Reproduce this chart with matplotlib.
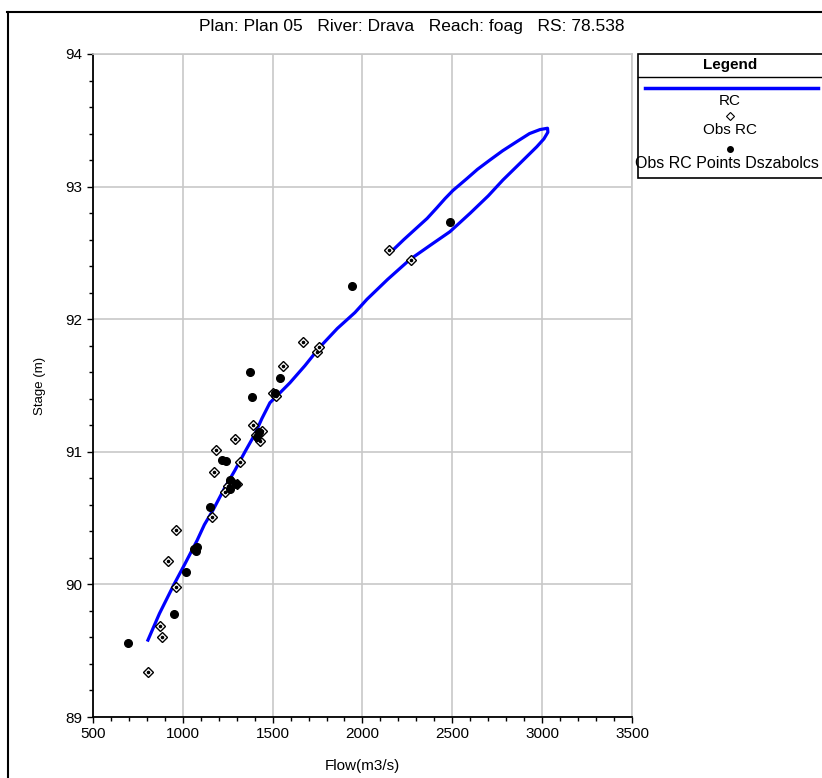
"""Rating curve at RS 78.538 (Drava, reach foag): computed RC vs observed points."""

import matplotlib.pyplot as plt
from matplotlib.lines import Line2D
from matplotlib.patches import Rectangle
from matplotlib.ticker import MultipleLocator

plt.rcParams["font.family"] = ["Liberation Sans", "DejaVu Sans"]

# computed rating curve (rising limb up to the loop tip, then falling limb back)
rc_flow = [806, 870, 951, 1010, 1079, 1120, 1168, 1230, 1290, 1346, 1400, 1440,
           1485, 1530, 1596, 1680, 1763, 1860, 1958, 2025, 2140, 2264, 2380, 2487,
           2600, 2700, 2782, 2880, 2970, 3010, 3032, 3030, 2988, 2930, 2860, 2780,
           2709, 2640, 2581, 2503, 2460, 2414, 2360, 2303, 2230, 2153]
rc_stage = [89.58, 89.78, 90.00, 90.15, 90.33, 90.45, 90.56, 90.72, 90.86, 91.00,
            91.13, 91.25, 91.37, 91.43, 91.52, 91.65, 91.79, 91.93, 92.05, 92.15,
            92.30, 92.45, 92.56, 92.66, 92.80, 92.93, 93.05, 93.18, 93.30, 93.36,
            93.41, 93.44, 93.43, 93.40, 93.34, 93.27, 93.20, 93.13, 93.06, 92.97,
            92.91, 92.84, 92.76, 92.69, 92.60, 92.50]

# observed rating curve points (open diamonds)
obs_flow = [806, 873, 884, 917, 962, 962, 1162, 1173, 1184, 1290, 1301, 1318,
            1390, 1410, 1430, 1502, 1520, 1557, 1669, 1747, 1760, 2147, 2270,
            1250, 1270, 1440, 1235]
obs_stage = [89.34, 89.69, 89.60, 90.18, 89.98, 90.41, 90.51, 90.85, 91.01, 91.10,
             90.76, 90.92, 91.20, 91.13, 91.08, 91.44, 91.42, 91.65, 91.83, 91.75,
             91.79, 92.52, 92.45, 90.74, 90.78, 91.16, 90.70]

# observed points, Dszabolcs series (filled dots)
dsz_flow = [695, 951, 1017, 1079, 1075, 1151, 1218, 1238, 1262, 1296, 1374, 1385,
            1413, 1425, 1513, 1541, 1942, 2487, 1060, 1265]
dsz_stage = [89.56, 89.78, 90.09, 90.28, 90.25, 90.58, 90.94, 90.93, 90.79, 90.76,
             91.60, 91.41, 91.11, 91.15, 91.44, 91.56, 92.25, 92.73, 90.27, 90.72]

title = "Plan: Plan 05   River: Drava   Reach: foag   RS: 78.538"

fig = plt.figure(figsize=(8.22, 7.78), dpi=100)
ax = fig.add_axes([0.1131, 0.0784, 0.6557, 0.8522])

ax.plot(rc_flow, rc_stage, color="#0000ff", linewidth=2.3, zorder=3)
ax.plot(obs_flow, obs_stage, linestyle="none", marker="D", markersize=5.5,
        markerfacecolor="white", markeredgecolor="black", markeredgewidth=1.0, zorder=4)
ax.plot(obs_flow, obs_stage, linestyle="none", marker="o", markersize=1.6,
        color="black", zorder=5)
ax.plot(dsz_flow, dsz_stage, linestyle="none", marker="o", markersize=5.5,
        color="black", zorder=4)

ax.set_xlim(500, 3500)
ax.set_ylim(89, 94)
ax.xaxis.set_major_locator(MultipleLocator(500))
ax.xaxis.set_minor_locator(MultipleLocator(100))
ax.yaxis.set_major_locator(MultipleLocator(1))
ax.yaxis.set_minor_locator(MultipleLocator(0.2))
ax.grid(True, which="major", color="#c8c8c8", linewidth=1.2)
ax.set_axisbelow(True)
ax.tick_params(which="major", length=4, width=1, labelsize=11)
ax.tick_params(which="minor", length=3, width=1)
for side in ("top", "right"):
    ax.spines[side].set_color("#c8c8c8")
    ax.spines[side].set_linewidth(1.2)
for side in ("left", "bottom"):
    ax.spines[side].set_linewidth(1.3)
ax.set_xlabel("Flow(m3/s)", fontsize=11, labelpad=13)
ax.set_ylabel("Stage (m)", fontsize=9.5, labelpad=14)

fig.text(412 / 822, 1 - 27 / 778, title, ha="center", va="center", fontsize=12.5)

# window frame lines
fig.add_artist(Line2D([8 / 822, 8 / 822], [0, 1 - 12 / 778], color="black", linewidth=1.5))
fig.add_artist(Line2D([7 / 822, 1], [1 - 12 / 778, 1 - 12 / 778], color="black", linewidth=1.5))


# legend box drawn by hand, right of the plot
def fx(px):
    return px / 822


def fy(py):
    return 1 - py / 778


fig.add_artist(Rectangle((fx(638), fy(178)), fx(190), fy(54) - fy(178),
                         transform=fig.transFigure, facecolor="white",
                         edgecolor="black", linewidth=1.2))
fig.add_artist(Line2D([fx(638), 1], [fy(77), fy(77)], color="black", linewidth=1))
fig.text(fx(730), fy(65), "Legend", ha="center", va="center", fontsize=11, fontweight="bold")
fig.add_artist(Line2D([fx(645), fx(818)], [fy(88), fy(88)], color="#0000ff", linewidth=2.5))
fig.text(fx(730), fy(101), "RC", ha="center", va="center", fontsize=11)
fig.add_artist(Line2D([fx(730)], [fy(116)], linestyle="none", marker="D", markersize=4,
                      markerfacecolor="white", markeredgecolor="black", markeredgewidth=0.8))
fig.text(fx(730), fy(130), "Obs RC", ha="center", va="center", fontsize=11)
fig.add_artist(Line2D([fx(730)], [fy(149)], linestyle="none", marker="o", markersize=4,
                      color="black"))
fig.text(fx(727), fy(164), "Obs RC Points Dszabolcs", ha="center", va="center", fontsize=11.5)

fig.savefig("out.png", dpi=100)
